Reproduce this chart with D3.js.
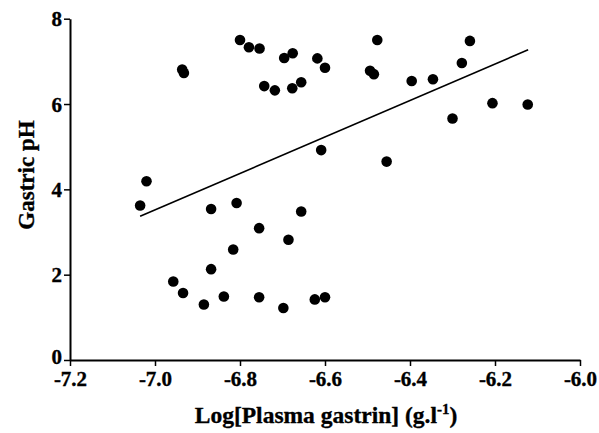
<!DOCTYPE html>
<html><head><meta charset="utf-8">
<script src="https://cdn.jsdelivr.net/npm/d3@7"></script>
<style>html,body{margin:0;padding:0;background:#fff;} text{stroke:#000;stroke-width:0.35px;}</style>
</head><body>
<svg id="c" width="599" height="433"></svg>
<script>
const xs = [-6.800,-6.779,-6.754,-6.936,-6.932,-6.696,-6.676,-6.618,-6.600,-6.743,-6.718,-6.677,-6.656,-6.609,-7.020,-7.035,-6.868,-6.808,-6.656,-6.477,-6.494,-6.485,-6.396,-6.346,-6.278,-6.259,-6.206,-6.123,-6.300,-6.455,-6.755,-6.686,-6.816,-6.868,-6.957,-6.934,-6.885,-6.838,-6.755,-6.698,-6.624,-6.600];
const ys = [7.50,7.33,7.30,6.81,6.73,7.08,7.19,7.07,6.85,6.42,6.32,6.37,6.51,4.92,4.19,3.62,3.54,3.68,3.48,7.50,6.78,6.70,6.54,6.58,6.96,7.48,6.02,5.99,5.66,4.65,3.09,2.82,2.59,2.13,1.84,1.57,1.30,1.49,1.47,1.22,1.42,1.47];
const fitX = [-7.035,-6.122];
const fitY = [3.37,7.27];
const xTicks = [-7.2,-7.0,-6.8,-6.6,-6.4,-6.2,-6.0];
const yTicks = [0,2,4,6,8];

const svg = d3.select("#c");
const x = d3.scaleLinear().domain([-7.2,-6.0]).range([70,580]);
const y = d3.scaleLinear().domain([0,8]).range([360,18.7]);
const font = "'Liberation Serif','Times New Roman',serif";

const xAx = svg.append("g").attr("transform","translate(0,360)")
  .call(d3.axisBottom(x).tickValues(xTicks).tickFormat(d3.format(".1f")).tickSize(6).tickSizeOuter(0));
const yAx = svg.append("g").attr("transform","translate(70,0)")
  .call(d3.axisLeft(y).tickValues(yTicks).tickFormat(d3.format("d")).tickSize(6).tickSizeOuter(0));
[xAx,yAx].forEach(g=>{
  g.select(".domain").attr("stroke","#000").attr("stroke-width",2);
  g.selectAll(".tick line").attr("stroke","#000").attr("stroke-width",1.5);
  g.selectAll(".tick text").attr("fill","#000").style("font-family",font).style("font-weight","bold").style("font-size","21px");
});
xAx.selectAll(".tick text").attr("y",11).attr("dy","0.71em").text(d=>d3.format(".1f")(d).replace("−","-"));
yAx.selectAll(".tick text").attr("x",-8).attr("dy",d=>d===0?"0.18em":"0.34em");

svg.append("line")
  .attr("x1",x(fitX[0])).attr("y1",y(fitY[0]))
  .attr("x2",x(fitX[1])).attr("y2",y(fitY[1]))
  .attr("stroke","#000").attr("stroke-width",1.6);

svg.append("g").selectAll("circle").data(xs.map((v,i)=>[v,ys[i]])).join("circle")
  .attr("cx",d=>x(d[0])).attr("cy",d=>y(d[1])).attr("r",5.3).attr("fill","#000");

const xt = svg.append("text").attr("x",326).attr("y",423).attr("text-anchor","middle")
  .style("font-family",font).style("font-weight","bold").style("font-size","23.5px").attr("fill","#000");
xt.append("tspan").text("Log[Plasma gastrin] (g.l");
xt.append("tspan").attr("dy",-9).style("font-size","15px").text("-1");
xt.append("tspan").attr("dy",9).text(")");

svg.append("text").attr("transform","translate(34,175) rotate(-90)").attr("text-anchor","middle")
  .style("font-family",font).style("font-weight","bold").style("font-size","23px").attr("fill","#000")
  .text("Gastric pH");
</script>
</body></html>
